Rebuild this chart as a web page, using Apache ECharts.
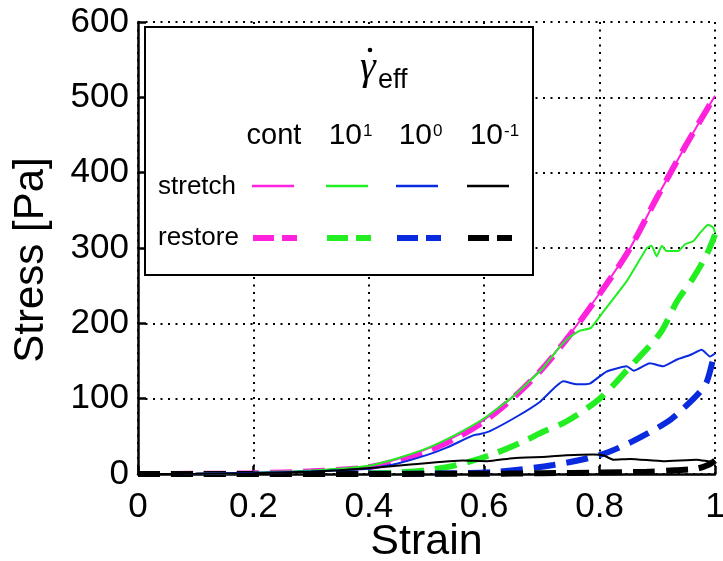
<!DOCTYPE html>
<html>
<head>
<meta charset="utf-8">
<script src="https://cdn.jsdelivr.net/npm/echarts@6/dist/echarts.min.js"></script>
<style>
  html, body { margin: 0; padding: 0; background: #fff; }
  #chart { width: 723px; height: 561px; }
</style>
</head>
<body>
<div id="chart"></div>
<script>
// x ticks / y ticks
var strainTicks = [0, 0.2, 0.4, 0.6, 0.8, 1];
var stressTicks = [0, 100, 200, 300, 400, 500, 600];

// rate labels (legend columns)
var rateLabels = ['cont', '10', '10', '10'];
var rateExp = ['', '1', '0', '-1'];
var rateColors = ['#ff22dd', '#22ee22', '#0a2ae0', '#000000'];

// [strain, stress] pairs
var contStretch = [[0,0],[0.1,0.3],[0.2,1.5],[0.3,4],[0.4,10],[0.45,20],[0.5,33],[0.55,50],[0.6,72],[0.65,103],[0.7,140],[0.75,187],[0.8,240],[0.85,296],[0.9,368],[0.95,437],[1.0,502]];
var contRestore = [[0,0],[0.1,0.2],[0.2,1],[0.3,3.5],[0.4,9],[0.45,18],[0.5,30],[0.55,47],[0.6,70],[0.65,101],[0.7,139],[0.75,186],[0.8,239],[0.85,296],[0.9,368],[0.95,437],[1.0,502]];

var r1Stretch = [[0,0],[0.1,0.3],[0.2,1.5],[0.3,4.5],[0.4,11],[0.45,21],[0.5,34],[0.55,52],[0.6,74],[0.65,103],[0.7,139],[0.73,168],[0.745,180],[0.765,190],[0.785,194],[0.805,214],[0.847,256],[0.882,300],[0.89,303],[0.899,289],[0.908,303],[0.916,296],[0.936,296],[0.948,305],[0.962,309],[0.974,320],[0.988,331],[0.997,327],[1.0,320]];
var r1Restore = [[0,0],[0.3,0.3],[0.4,1],[0.45,2],[0.5,5],[0.553,12],[0.61,25],[0.667,43],[0.702,56],[0.743,70],[0.8,100],[0.85,140],[0.905,187],[0.934,229],[0.962,260],[0.986,292],[1.0,318]];

var r0Stretch = [[0,0],[0.1,0.3],[0.2,1.5],[0.3,3.5],[0.4,7],[0.45,14],[0.5,25],[0.535,35],[0.58,51],[0.593,53],[0.61,57],[0.656,76],[0.697,96],[0.737,123],[0.761,119],[0.783,120],[0.812,136],[0.847,143],[0.859,137],[0.887,147],[0.91,143],[0.934,152],[0.957,158],[0.977,165],[0.991,156],[1.0,160]];
var r0Restore = [[0,0],[0.5,0.5],[0.622,3],[0.72,12],[0.8,25],[0.856,43],[0.917,69],[0.945,87],[0.974,109],[0.986,123],[0.997,153],[1.0,160]];

var rm1Stretch = [[0,0],[0.1,0.2],[0.2,1],[0.3,3],[0.35,5],[0.42,9],[0.477,13],[0.563,18],[0.605,17],[0.65,21],[0.708,23],[0.743,25],[0.789,26],[0.806,25],[0.824,19],[0.853,20],[0.91,17],[0.968,19],[0.997,16],[1.0,17]];
var rm1Restore = [[0,0],[0.6,0.3],[0.7,1],[0.8,2],[0.882,3],[0.93,5],[0.968,7],[0.991,13],[1.0,18]];

var FONT = 'Liberation Sans';

function stretchLine(data, color) {
  return { type: 'line', data: data, showSymbol: false, symbol: 'none', smooth: 0.15,
    lineStyle: { color: color, width: 2 }, z: 3 };
}
function restoreLine(data, color) {
  return { type: 'line', data: data, showSymbol: false, symbol: 'none', smooth: 0.3,
    lineStyle: { color: color, width: 6, type: [22, 11] }, z: 2 };
}

// legend table drawn by hand
var colX = [252, 326, 396, 467];
var legendEls = [
  { type: 'rect', shape: { x: 145, y: 27, width: 388, height: 248 }, style: { fill: '#fff', stroke: '#000', lineWidth: 2 } },
  { type: 'text', x: 368, y: 68, style: { text: 'γ', font: 'italic 40px "Liberation Serif"', fill: '#000', align: 'center', verticalAlign: 'middle' } },
  { type: 'circle', shape: { cx: 370, cy: 50, r: 2.3 }, style: { fill: '#000' } },
  { type: 'text', x: 378, y: 81, style: { text: 'eff', font: '27px "' + FONT + '"', fill: '#000', align: 'left', verticalAlign: 'middle' } },
  { type: 'text', x: 158, y: 187, style: { text: 'stretch', font: '26px "' + FONT + '"', fill: '#000', align: 'left', verticalAlign: 'middle' } },
  { type: 'text', x: 158, y: 238, style: { text: 'restore', font: '26px "' + FONT + '"', fill: '#000', align: 'left', verticalAlign: 'middle' } }
];
rateLabels.forEach(function (lab, i) {
  var s = colX[i];
  if (rateExp[i] === '') {
    legendEls.push({ type: 'text', x: 274, y: 136, style: { text: lab, font: '29px "' + FONT + '"', fill: '#000', align: 'center', verticalAlign: 'middle' } });
  } else {
    var right = s + 36;
    legendEls.push({ type: 'text', x: right, y: 136, style: { text: lab, font: '30px "' + FONT + '"', fill: '#000', align: 'right', verticalAlign: 'middle' } });
    legendEls.push({ type: 'text', x: right + 1, y: 131, style: { text: rateExp[i], font: '17px "' + FONT + '"', fill: '#000', align: 'left', verticalAlign: 'middle' } });
  }
  legendEls.push({ type: 'line', shape: { x1: s, y1: 186, x2: s + 42, y2: 186 }, style: { stroke: rateColors[i], lineWidth: 2.5 } });
  legendEls.push({ type: 'line', shape: { x1: s + 1, y1: 238, x2: s + 45, y2: 238 }, style: { stroke: rateColors[i], lineWidth: 6, lineDash: [21, 8] } });
});

var chart = echarts.init(document.getElementById('chart'));
chart.setOption({
  animation: false,
  backgroundColor: '#fff',
  grid: { left: 138, right: 8, top: 22, bottom: 87, containLabel: false, outerBoundsMode: 'none' },
  xAxis: {
    type: 'value', min: strainTicks[0], max: strainTicks[strainTicks.length - 1], interval: 0.2,
    name: 'Strain', nameLocation: 'middle', nameGap: 47, nameMoveOverlap: false,
    nameTextStyle: { fontFamily: FONT, fontSize: 43, color: '#000', verticalAlign: 'top' },
    axisLine: { lineStyle: { color: '#000', width: 2.5 } },
    axisTick: { inside: true, length: 8, lineStyle: { color: '#000', width: 2.5 } },
    axisLabel: { fontFamily: FONT, fontSize: 35, color: '#000', margin: 16 },
    splitLine: { show: true, lineStyle: { color: '#000', width: 2, type: [2, 5.5] } }
  },
  yAxis: {
    type: 'value', min: stressTicks[0], max: stressTicks[stressTicks.length - 1], interval: 100,
    name: 'Stress [Pa]', nameLocation: 'middle', nameGap: 86, nameMoveOverlap: false,
    nameTextStyle: { fontFamily: FONT, fontSize: 42, color: '#000', padding: [0, 24, 0, 0] },
    axisLine: { show: true, lineStyle: { color: '#000', width: 2.5 } },
    axisTick: { show: true, inside: true, length: 8, lineStyle: { color: '#000', width: 2.5 } },
    axisLabel: { fontFamily: FONT, fontSize: 35, color: '#000', margin: 9 },
    splitLine: { show: true, lineStyle: { color: '#000', width: 2, type: [2, 5.5] } }
  },
  series: [
    restoreLine(contRestore, rateColors[0]),
    stretchLine(contStretch, rateColors[0]),
    restoreLine(r1Restore, rateColors[1]),
    stretchLine(r1Stretch, rateColors[1]),
    restoreLine(r0Restore, rateColors[2]),
    stretchLine(r0Stretch, rateColors[2]),
    restoreLine(rm1Restore, rateColors[3]),
    stretchLine(rm1Stretch, rateColors[3])
  ],
  graphic: { elements: legendEls.map(function (e) { e.z = 100; return e; }) }
});
</script>
</body>
</html>
